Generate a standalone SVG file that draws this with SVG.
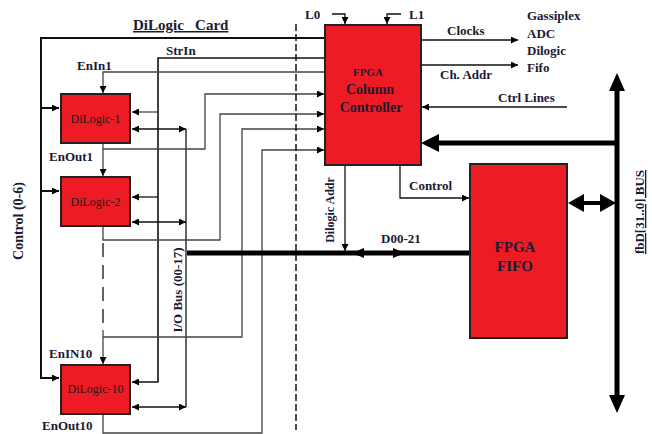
<svg xmlns="http://www.w3.org/2000/svg" width="652" height="434" viewBox="0 0 652 434">
<defs>
<marker id="a" viewBox="0 0 10 10" refX="10" refY="5" markerWidth="7" markerHeight="7" markerUnits="userSpaceOnUse" orient="auto-start-reverse"><path d="M0,0 L10,5 L0,10 z" fill="#000"/></marker>
</defs>
<style>
.box{fill:#ED1C24;stroke:#222;stroke-width:2}
.t{font-family:"Liberation Serif",serif;font-weight:bold;fill:#1a1a33;font-size:13px}
.bt{font-family:"Liberation Serif",serif;fill:#1a1a1a;font-size:12px}
.w{fill:none;stroke:#111;stroke-width:1.3}
.g{fill:none;stroke:#444;stroke-width:1.3}
</style>
<rect width="652" height="434" fill="#fff"/>
<g id="connectors">
<path class="w" style="stroke-width:2" d="M325,38 H41 V378 H59" marker-end="url(#a)"/>
<path class="w" style="stroke-width:2" d="M41,108 H59" marker-end="url(#a)"/>
<path class="w" style="stroke-width:2" d="M41,191 H59" marker-end="url(#a)"/>
<path class="w" style="stroke-width:1.6" d="M325,58 H158 V382 H132" marker-end="url(#a)"/>
<path class="g" d="M158,112 H132" marker-end="url(#a)"/>
<path class="w" d="M158,197 H132" marker-end="url(#a)"/>
<path class="g" d="M325,72 H103 V93" marker-end="url(#a)"/>
<path class="w" d="M186,129 V407"/>
<path class="w" d="M132,129 H186" marker-start="url(#a)" marker-end="url(#a)"/>
<path class="w" d="M132,222 H186" marker-start="url(#a)" marker-end="url(#a)"/>
<path class="w" d="M132,407 H186" marker-start="url(#a)" marker-end="url(#a)"/>
<path class="g" d="M103,143 V176" marker-end="url(#a)"/>
<path class="g" d="M103,149 H205 V94 H324" marker-end="url(#a)"/>
<path class="g" d="M103,226 V240 H220 V114 H324" marker-end="url(#a)"/>
<path class="w" style="stroke-dasharray:14,8" d="M103,243 V330"/>
<path class="g" d="M103,330 V364" marker-end="url(#a)"/>
<path class="g" d="M103,337 H242 V129 H324" marker-end="url(#a)"/>
<path class="g" d="M103,414 V433 H262 V150 H324" marker-end="url(#a)"/>
<path class="w" style="stroke-width:1.5;stroke-dasharray:7,3" d="M296,24 V430"/>
<path fill="none" stroke="#000" stroke-width="5" d="M187,253 H470"/>
<path d="M352,253 l12,-5 v10 z M405,253 l-12,-5 v10 z" fill="#000"/>
<path class="w" d="M332,14 H345 V24" marker-end="url(#a)"/>
<path class="w" d="M401,14 H387 V24" marker-end="url(#a)"/>
<path class="w" d="M421,40 H518" marker-end="url(#a)"/>
<path class="w" d="M421,65 H518" marker-end="url(#a)"/>
<path class="w" d="M567,107 H422" marker-end="url(#a)"/>
<path class="w" d="M400,165 V198 H469" marker-end="url(#a)"/>
<path class="w" d="M345,165 V251" marker-end="url(#a)"/>
<path fill="none" stroke="#000" stroke-width="5" d="M617,143 H438"/>
<path d="M421,143 l18,-9 v18 z" fill="#000"/>
<path fill="none" stroke="#000" stroke-width="5" d="M617,90 V396"/>
<path d="M617,73 l-8,18 h16 z M617,413 l-8,-18 h16 z" fill="#000"/>
<path fill="none" stroke="#000" stroke-width="4" d="M582,203 H602"/>
<path d="M568,203 l16,-9 v18 z M616,203 l-16,-9 v18 z" fill="#000"/>
</g>
<g id="dilogic1"><rect class="box" x="61" y="94" width="69" height="49"/><text class="bt" x="95.5" y="123" text-anchor="middle">DiLogic-1</text></g>
<g id="dilogic2"><rect class="box" x="61" y="177" width="69" height="49"/><text class="bt" x="95.5" y="206" text-anchor="middle">DiLogic-2</text></g>
<g id="dilogic10"><rect class="box" x="61" y="365" width="69" height="49"/><text class="bt" x="95.5" y="393" text-anchor="middle">DiLogic-10</text></g>
<g id="cc"><rect class="box" x="325" y="25" width="96" height="140"/>
<text class="t" x="368" y="76" text-anchor="middle" style="font-size:11px">FPGA</text>
<text class="t" x="370" y="94" text-anchor="middle" style="font-size:14px">Column</text>
<text class="t" x="371" y="112" text-anchor="middle" style="font-size:14px">Controller</text></g>
<g id="fifo"><rect class="box" x="470" y="164" width="97" height="174"/>
<text class="t" x="515" y="252" text-anchor="middle" style="font-size:15px">FPGA</text>
<text class="t" x="515" y="271" text-anchor="middle" style="font-size:15px">FIFO</text></g>
<g id="labels">
<text class="t" x="133" y="30" style="font-size:15px;text-decoration:underline" xml:space="preserve">DiLogic   Card</text>
<text class="t" x="166" y="55">StrIn</text>
<text class="t" x="77" y="70">EnIn1</text>
<text class="t" x="49" y="161">EnOut1</text>
<text class="t" x="49" y="358">EnIN10</text>
<text class="t" x="42" y="430">EnOut10</text>
<text class="t" transform="translate(23,221) rotate(-90)" text-anchor="middle" style="font-size:14px">Control (0-6)</text>
<text class="t" transform="translate(182,290) rotate(-90)" text-anchor="middle" style="font-size:13px">I/O Bus (00-17)</text>
<text class="t" transform="translate(334,210) rotate(-90)" text-anchor="middle" style="font-size:12px">Dilogic Addr</text>
<text class="t" x="305" y="19">L0</text>
<text class="t" x="409" y="19">L1</text>
<text class="t" x="447" y="35">Clocks</text>
<text class="t" x="440" y="79">Ch. Addr</text>
<text class="t" x="527" y="20">Gassiplex</text>
<text class="t" x="527" y="38">ADC</text>
<text class="t" x="527" y="55">Dilogic</text>
<text class="t" x="527" y="72">Fifo</text>
<text class="t" x="498" y="102">Ctrl Lines</text>
<text class="t" x="409" y="190">Control</text>
<text class="t" x="381" y="243">D00-21</text>
<text class="t" transform="translate(644,212) rotate(-90)" text-anchor="middle" style="font-size:13px;text-decoration:underline">fbD[31..0] BUS</text>
</g>
</svg>
